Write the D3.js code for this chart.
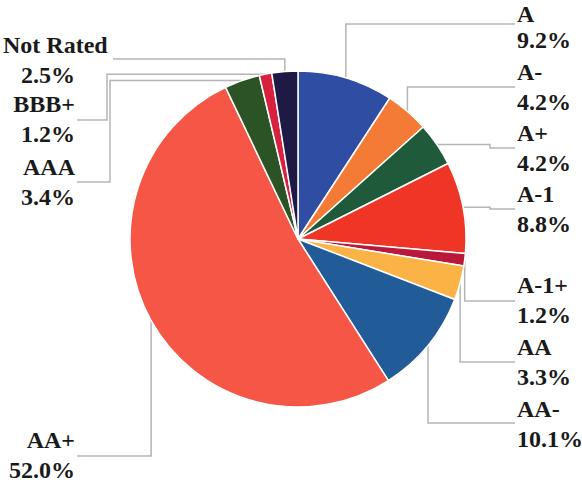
<!DOCTYPE html>
<html><head><meta charset="utf-8">
<script src="https://cdn.jsdelivr.net/npm/d3@7"></script>
</head>
<body style="margin:0">
<svg id="chart" width="582" height="485" style="font-family:'Liberation Serif',Tinos,'Times New Roman';"></svg>
<script>
// ---- data ----
const categories = ["A","A-","A+","A-1","A-1+","AA","AA-","AA+","AAA","BBB+","Not Rated"];
const values = [9.2,4.2,4.2,8.8,1.2,3.3,10.1,52.0,3.4,1.2,2.5];
const valueLabels = ["9.2%","4.2%","4.2%","8.8%","1.2%","3.3%","10.1%","52.0%","3.4%","1.2%","2.5%"];
const colors = ["#2f4ea3","#f47b36","#1f5a3a","#ee3526","#b8183a","#fcb345","#215c98","#f65645","#2b5326","#d8203f","#1f1a45"];

// ---- layout (positions, not data) ----
const cx = 298, cy = 239, R = 168;
const layout = [
  {side:"r", y:21.5, py:48, ly:24,  route:"v"},
  {side:"r", y:80,  ly:87,  route:"v"},
  {side:"r", y:141, ly:148, route:"h", ex:490},
  {side:"r", y:202, ly:209, route:"h", ex:490},
  {side:"r", y:293, ly:301, route:"v"},
  {side:"r", y:355, ly:362, route:"v"},
  {side:"r", y:417, ly:423, route:"v"},
  {side:"l", y:448, ly:456, route:"v"},
  {side:"l", y:175, ly:182, route:"h", ex:110},
  {side:"l", y:112, ly:120, route:"h", ex:107},
  {side:"l", y:53,  ly:59,  route:"v", end:113, start:true}
];

const svg = d3.select("#chart");
const pie = d3.pie().sort(null).value(d => d.v).startAngle(0).endAngle(2*Math.PI);
const data = categories.map((c,i)=>({c, v:values[i], lab:valueLabels[i], col:colors[i], L:layout[i]}));
const arcs = pie(data);
const arc = d3.arc().innerRadius(0).outerRadius(R);

// leader lines
const lineG = svg.append("g");
arcs.forEach(a=>{
  const mid = (a.startAngle+a.endAngle)/2;
  const sx = cx + R*Math.sin(mid), sy = cy - R*Math.cos(mid);
  const L = a.data.L;
  const endX = L.side==="r" ? 515 : (L.end || 77);
  const pts = L.route==="v"
    ? [[sx,sy],[sx,L.ly],[endX,L.ly]]
    : [[sx,sy],[L.ex,sy],[L.ex,L.ly],[endX,L.ly]];
  lineG.append("path").attr("d", d3.line()(pts))
    .attr("fill","none").attr("stroke","#b5b5b5").attr("stroke-width",1.5);
});

const g = svg.append("g").attr("transform",`translate(${cx},${cy})`);
g.selectAll("path.slice").data(arcs).join("path").attr("class","slice")
  .attr("d",arc).attr("fill",d=>d.data.col)
  .attr("stroke","#fff").attr("stroke-width",1.5).attr("stroke-linejoin","round");

// labels
const labG = svg.append("g");
function addText(x, y, s, anchor){
  return labG.append("text").attr("x",x).attr("y",y)
    .style("font-family","'Liberation Serif', Tinos, 'Times New Roman'")
    .style("font-weight","700").style("font-size","24px").style("fill","#1a1a1a")
    .attr("text-anchor",anchor).text(s);
}
arcs.forEach(a=>{
  const L = a.data.L;
  const py = L.py || (L.y + 30);
  if (L.side==="r"){
    addText(517, L.y, a.data.c, "start");
    addText(517, py, a.data.lab, "start");
  } else {
    if (L.start) addText(3, L.y, a.data.c, "start");
    else addText(75, L.y, a.data.c, "end");
    addText(75, py, a.data.lab, "end");
  }
});
</script>
</body></html>
